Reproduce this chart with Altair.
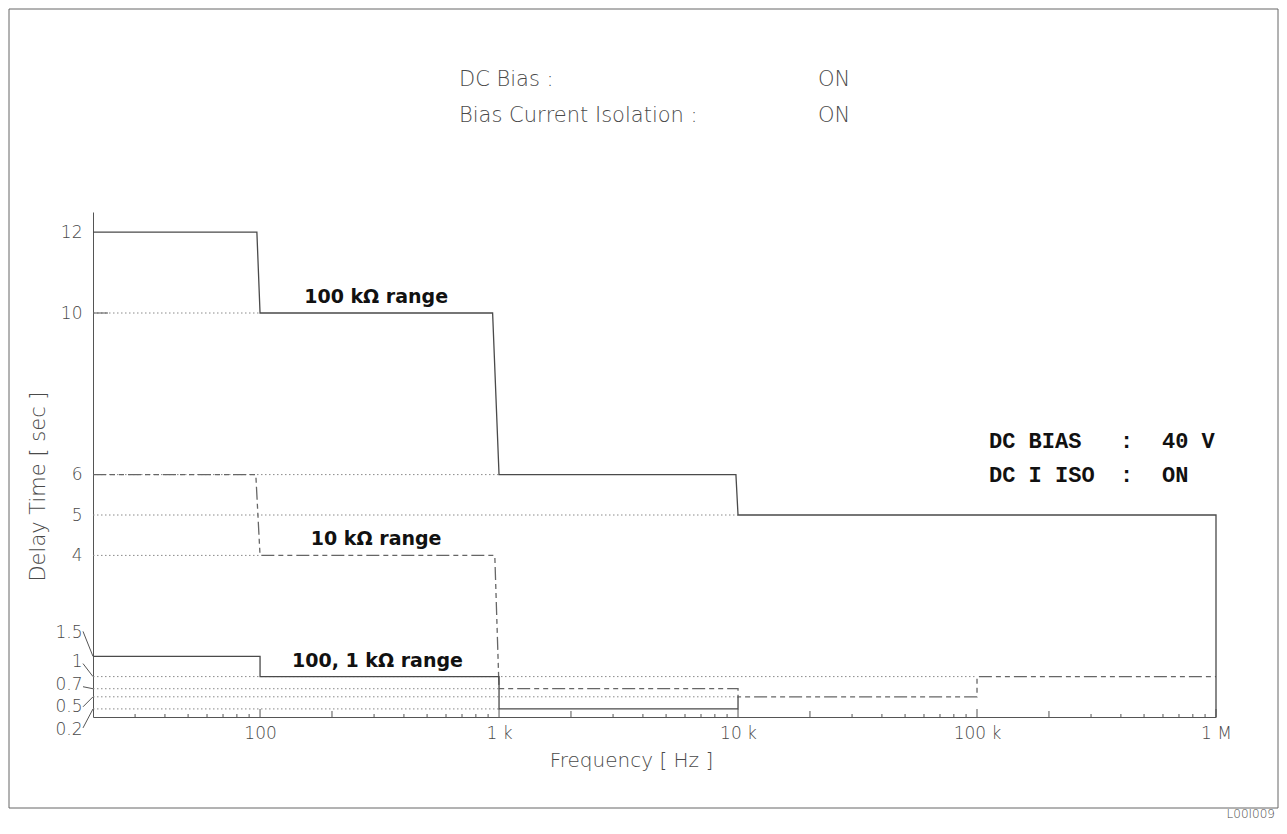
import altair as alt
import pandas as pd

# ---------------- data ----------------
freq_100k = [20, 97, 100, 940, 1000, 9800, 10000, 1000000, 1000000]
delay_100k = [12, 12, 10, 10, 6, 6, 5, 5, 0]

freq_10k = [20, 96, 100, 960, 1000, 10000, 10000, 100000, 100000, 1000000]
delay_10k = [6, 6, 4, 4, 0.7, 0.7, 0.5, 0.5, 1, 1]

freq_1k = [20, 100, 100, 1000, 1000, 10000, 10000]
delay_1k = [1.5, 1.5, 1, 1, 0.2, 0.2, 0.5]

ref_levels = [10, 6, 5, 4, 1, 0.7, 0.5, 0.2]
ref_until = [100, 1000, 10000, 100, 100000, 1000, 10000, 1000]

y_ticks = [12, 10, 6, 5, 4, 1.5, 1, 0.7, 0.5, 0.2]
crowded_ticks = [1.5, 1, 0.7, 0.5, 0.2]
x_ticks = [100, 1000, 10000, 100000, 1000000]
x_tick_labels = ["100", "1 k", "10 k", "100 k", "1 M"]

range_labels = ["100 k\u03a9  range", "10 k\u03a9  range", "100, 1 k\u03a9  range"]
range_label_freq = [306, 306, 310]
range_label_level = [10, 4, 1]

# ---------------- styling ----------------
W, H = 1123, 505
AX = "#555555"
TXT = "#4a4a4a"
LINE = "#4a4a4a"
DASHLINE = "#666666"
DOT = "#8a8a8a"
FONT = "DejaVu Sans"
THIN = 200
crowded_offsets = [-24, -15, -4, 10, 21]
leader_dy = [-25, -13, -2, 10, 19]

xscale = alt.Scale(type="log", domain=[20, 1000000], nice=False)
yscale = alt.Scale(domain=[0, 12.5], nice=False, zero=False)

label_expr = " : ".join(
    f"datum.value == {v} ? '{t}'" for v, t in zip(x_ticks, x_tick_labels)
) + " : ''"

label_offset = {
    "condition": [
        {"test": f"datum.value == {v}", "value": o}
        for v, o in zip(crowded_ticks, crowded_offsets)
    ],
    "value": 0,
}

x_axis = alt.Axis(
    values=x_ticks, labelExpr=label_expr, ticks=False, grid=False,
    domainColor=AX, labelColor=TXT, labelFont=FONT, labelFontSize=17,
    labelFontWeight=THIN,
    labelPadding=8, title="Frequency [ Hz ]", titleFont=FONT,
    titleFontSize=20, titleFontWeight=THIN, titleColor=TXT,
    titleX=538, titleY=43, titleAlign="center", titleBaseline="middle",
    labelFlush=False,
)
y_axis = alt.Axis(
    values=y_ticks, format="~g", ticks=False, grid=False, domainColor=AX,
    labelColor=TXT, labelFont=FONT, labelFontSize=17, labelFontWeight=THIN,
    labelPadding=11, labelOffset=label_offset, labelOverlap=False,
    title="Delay Time [ sec ]", titleFont=FONT, titleFontSize=21,
    titleFontWeight=THIN, titleColor=TXT,
    titleX=-55, titleY=274, titleAngle=270, titleAlign="center", titleBaseline="middle",
)


def X(field):
    return alt.X(field, scale=xscale, axis=x_axis)


def Y(field):
    return alt.Y(field, scale=yscale, axis=y_axis)


one = pd.DataFrame({"a": [0]})

# reference dotted lines
ref_df = pd.DataFrame({"level": ref_levels, "start": [20] * len(ref_levels), "end": ref_until})
ref = alt.Chart(ref_df).mark_rule(color=DOT, strokeDash=[1.5, 2.5], strokeWidth=1).encode(
    x=X("start:Q"), x2="end:Q", y=Y("level:Q"),
)


def series(freqs, vals, color, dash, width):
    df = pd.DataFrame({"f": freqs, "v": vals, "i": list(range(len(freqs)))})
    kw = dict(color=color, strokeWidth=width)
    if dash:
        kw["strokeDash"] = dash
    return alt.Chart(df).mark_line(**kw).encode(
        x=X("f:Q"), y=Y("v:Q"), order="i:Q",
    )


s100k = series(freq_100k, delay_100k, LINE, None, 1.3)
s10k = series(freq_10k, delay_10k, DASHLINE, [13, 4, 5, 4, 5, 4], 1.3)
s1k = series(freq_1k, delay_1k, LINE, None, 1.3)

# inward x ticks
decade_ticks = x_ticks
two_ticks = [2 * 10 ** d for d in range(2, 6)]
minor_ticks = [k * 10 ** d for d in range(1, 6) for k in range(3, 10) if 20 < k * 10 ** d < 1000000]


def tick_layer(vals, length):
    return alt.Chart(pd.DataFrame({"f": vals})).mark_rule(color=AX, strokeWidth=1).encode(
        x=X("f:Q"), y=alt.value(H), y2=alt.value(H - length),
    )


ticks = [tick_layer(decade_ticks, 8), tick_layer(two_ticks, 6), tick_layer(minor_ticks, 3)]

# small inward tick at 10
ytick = alt.Chart(pd.DataFrame({"v": [10]})).mark_rule(color=AX).encode(
    x=alt.value(0), x2=alt.value(15), y=Y("v:Q")
)

# leader lines for crowded labels
leaders = []
for v, dy in zip(crowded_ticks, leader_dy):
    leaders.append(
        alt.Chart(pd.DataFrame({"v": [v]})).mark_rule(color=AX, strokeWidth=1, yOffset=dy).encode(
            x=alt.value(-10), x2=alt.value(0), y=Y("v:Q"), y2="v:Q",
        )
    )

# range labels
rl_df = pd.DataFrame({"t": range_labels, "f": range_label_freq, "v": range_label_level})
rlabels = alt.Chart(rl_df).mark_text(
    font="DejaVu Sans", fontSize=19, fontWeight="bold", color="#111111",
    align="center", baseline="middle", dy=-16,
).encode(x=X("f:Q"), y=Y("v:Q"), text="t:N")


def note(text, x, y, size, weight=THIN, font=FONT, color=TXT, align="left", baseline="middle"):
    return alt.Chart(one).mark_text(
        text=text, font=font, fontSize=size, fontWeight=weight, color=color,
        align=align, baseline=baseline,
    ).encode(x=alt.value(x), y=alt.value(y))


notes = [
    note("DC Bias :", 366, -132, 21),
    note("ON", 725, -132, 21),
    note("Bias Current Isolation :", 366, -96, 21),
    note("ON", 725, -96, 21),
    note("DC BIAS", 896, 229, 22, "bold", "Liberation Mono", "#111111"),
    note(":", 1027, 229, 22, "bold", "Liberation Mono", "#111111"),
    note("40 V", 1069, 229, 22, "bold", "Liberation Mono", "#111111"),
    note("DC I ISO", 896, 263, 22, "bold", "Liberation Mono", "#111111"),
    note(":", 1027, 263, 22, "bold", "Liberation Mono", "#111111"),
    note("ON", 1069, 263, 22, "bold", "Liberation Mono", "#111111"),
    note("L00I009", 1182, 606, 12, align="right", baseline="alphabetic"),
]

frame = alt.Chart(one).mark_rect(fillOpacity=0, stroke="#666666", strokeWidth=1).encode(
    x=alt.value(-84), x2=alt.value(1185), y=alt.value(-203), y2=alt.value(596)
)

chart = alt.layer(
    frame, ref, *ticks, ytick, s10k, s1k, s100k, *leaders, rlabels, *notes
).properties(
    width=W, height=H,
    padding={"left": 85, "top": 204, "right": 63, "bottom": 103},
    autosize=alt.AutoSizeParams(type="none"),
).configure(
    background="white",
    view=alt.ViewConfig(stroke="transparent", strokeWidth=0),
)

chart.save("out.html", embed_options={"renderer": "svg", "actions": False})
